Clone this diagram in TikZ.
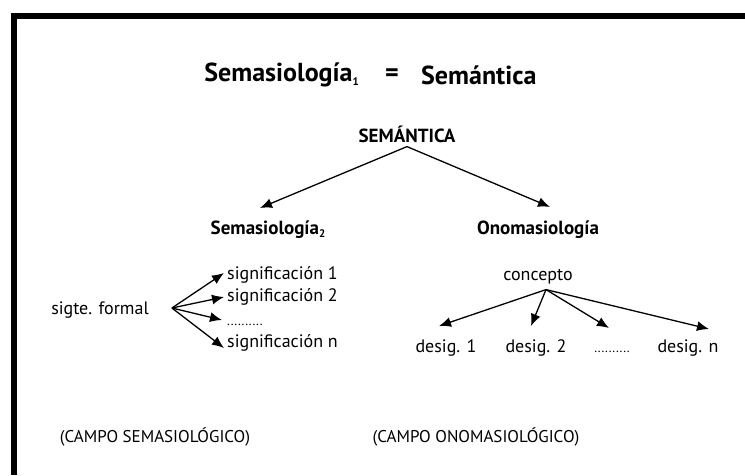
\documentclass[tikz,border=0pt]{standalone}
\usepackage{fontspec}
\setmainfont{PT Sans}
\usetikzlibrary{arrows.meta,positioning,calc}

\newcommand{\lowsub}[1]{\raisebox{-0.3ex}{\fontsize{11}{11}\selectfont #1}}
\newcommand{\dotrow}{\fontsize{13}{13}\selectfont ..........}

\tikzset{
  txt/.style={inner sep=1pt, font=\fontsize{18}{20}\selectfont},
  head/.style={inner sep=1pt, font=\fontsize{19}{22}\selectfont\bfseries},
  big/.style={inner sep=1pt, font=\fontsize{26}{30}\selectfont\bfseries},
  campo/.style={inner sep=1pt, font=\fontsize{17}{19}\selectfont},
  arr/.style={-{Latex[length=12pt,width=10pt]}, line width=1.3pt},
}

\begin{document}
\begin{tikzpicture}[x=1pt,y=-1pt]
		%%%%% FRAME %%%%%
		\useasboundingbox (0,0) rectangle (745,475);
		\fill[black] (11,13) rectangle (745,19);
		\fill[black] (11,13) rectangle (17,475);
		
		%%%%% TOP %%%%%
		\node[big, anchor=east] (t1) at (360,75) {Semasiología\lowsub{1}};
		\node[big] (teq) at (392,75) {=};
		\node[big, anchor=west] (t2) at (420,75) {Semántica};
		\node[head] (sem) at (407,134) {SEMÁNTICA};
		\node[head] (sema) at (268,230) {Semasiología\lowsub{2}};
		\node[head] (onom) at (538,230) {Onomasiología};
		\draw[arr] ([yshift=-3pt]sem.south) -- ([xshift=-8pt,yshift=12pt]sema.north);
		\draw[arr] ([yshift=-3pt]sem.south) -- ([xshift=12pt,yshift=13pt]onom.north);
		
		%%%%% LEFT %%%%%
		\node[txt] (formal) at (100,310) {sigte. formal};
		\coordinate (fan) at ([xshift=22pt,yshift=2pt]formal.east);
		\node[txt, anchor=base west] (sig1) at (226,279) {significación 1};
		\node[txt, anchor=base west] (sig2) at (226,301) {significación 2};
		\node[txt, anchor=base west] (sigd) at (226,325) {\dotrow};
		\node[txt, anchor=base west] (sign) at (226,347) {significación n};
		\draw[arr] (fan) -- ([xshift=-2pt,yshift=6pt]sig1.base west);
		\draw[arr] (fan) -- ([xshift=-2pt,yshift=4pt]sig2.base west);
		\draw[arr] (fan) -- ([xshift=-4pt,yshift=5pt]sigd.base west);
		\draw[arr] (fan) -- ([xshift=-2pt,yshift=-1pt]sign.base west);
		
		%%%%% RIGHT %%%%%
		\node[txt] (conc) at (538,277) {concepto};
		\coordinate (top) at ([xshift=8pt,yshift=-4pt]conc.south);
		\node[txt, anchor=base] (d1) at (446,352) {desig. 1};
		\node[txt, anchor=base] (d2) at (536,352) {desig. 2};
		\node[txt, anchor=base] (dd) at (612,352) {\dotrow};
		\node[txt, anchor=base] (dn) at (688,352) {desig. n};
		\draw[arr] (top) -- ([xshift=-7pt,yshift=26pt]d1.base);
		\draw[arr] (top) -- ([xshift=-5pt,yshift=26pt]d2.base);
		\draw[arr] (top) -- ([xshift=-3pt,yshift=24pt]dd.base);
		\draw[arr] (top) -- ([xshift=21pt,yshift=23pt]dn.base);
		
		%%%%% BOTTOM %%%%%
		\node[campo] (cs) at (155,437) {(CAMPO SEMASIOLÓGICO)};
		\node[campo] (co) at (476,437) {(CAMPO ONOMASIOLÓGICO)};
	\end{tikzpicture}
\end{document}
